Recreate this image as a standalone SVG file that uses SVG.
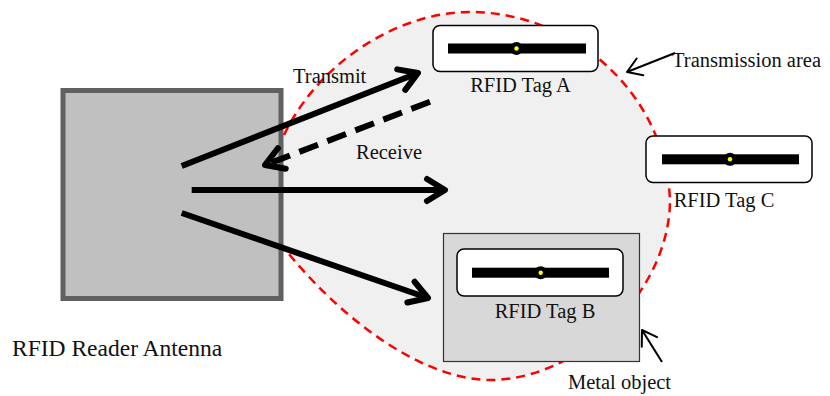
<svg xmlns="http://www.w3.org/2000/svg" width="830" height="396" viewBox="0 0 830 396">
<defs>
<style>
text{font-family:"Liberation Serif","Times New Roman",serif;font-size:20.5px;fill:#111}
.tag{fill:#fff;stroke:#000;stroke-width:1.5}
.bar{fill:#000}
.big{fill:none;stroke:#000;stroke-width:6}
.thin{fill:none;stroke:#000;stroke-width:2}
</style>
<marker id="ah" markerUnits="userSpaceOnUse" markerWidth="50" markerHeight="50" viewBox="-30 -25 50 50" refX="0" refY="0" orient="auto" overflow="visible">
<path d="M-18,-11 L0,0 L-18,11" fill="none" stroke="#000" stroke-width="6" stroke-dasharray="none" stroke-linecap="round" stroke-linejoin="round"/>
</marker>
<marker id="ahs" markerUnits="userSpaceOnUse" markerWidth="40" markerHeight="40" viewBox="-20 -20 40 40" refX="0" refY="0" orient="auto" overflow="visible">
<path d="M-14,-9 L0,0 L-14,9" fill="none" stroke="#000" stroke-width="2" stroke-linecap="round" stroke-linejoin="round"/>
</marker>
</defs>
<rect width="830" height="396" fill="#fff"/>
<g id="area">
<path d="M284,248 L240,190 L284,135 C320,60 400,12 470,12 C570,12 665,90 670,200 C670,290 580,380 490,380 C430,380 350,330 284,248" fill="#f0f0f0" stroke="none"/>
<path d="M284,135 C320,60 400,12 470,12 C570,12 665,90 670,200 C670,290 580,380 490,380 C430,380 350,330 284,248" fill="none" stroke="#f00" stroke-width="2.5" stroke-dasharray="9,6"/>
<text x="672" y="67">Transmission area</text>
</g>
<g id="antenna">
<rect x="63" y="90.5" width="218" height="208" fill="#c0c0c0" stroke="#606060" stroke-width="5"/>
<text x="12" y="356" style="font-size:23.5px">RFID Reader Antenna</text>
</g>
<g id="metal">
<rect x="443.5" y="233.5" width="196" height="128" fill="#d8d8d8" stroke="#333" stroke-width="1.2"/>
<text x="568" y="389">Metal object</text>
</g>
<g id="tagA">
<rect class="tag" x="433" y="25.5" width="165" height="46" rx="7"/>
<rect class="bar" x="448" y="43.5" width="138" height="10"/>
<circle cx="516.5" cy="48.5" r="6.5" fill="#000"/>
<circle cx="516.5" cy="48.5" r="2.2" fill="#ff0"/>
<text x="520.5" y="92" text-anchor="middle">RFID Tag A</text>
</g>
<g id="tagC">
<rect class="tag" x="646" y="136" width="166" height="46.5" rx="7"/>
<rect class="bar" x="662" y="154.3" width="137" height="10"/>
<circle cx="730" cy="159.3" r="6.5" fill="#000"/>
<circle cx="730" cy="159.3" r="2.2" fill="#ff0"/>
<text x="724" y="206.5" text-anchor="middle">RFID Tag C</text>
</g>
<g id="tagB">
<rect class="tag" x="457" y="249" width="166" height="47" rx="7"/>
<rect class="bar" x="472" y="267.7" width="137" height="10"/>
<circle cx="540.7" cy="272.7" r="6.5" fill="#000"/>
<circle cx="540.7" cy="272.7" r="2.2" fill="#ff0"/>
<text x="545" y="318" text-anchor="middle">RFID Tag B</text>
</g>
<g id="connectors">
<line class="big" x1="181.7" y1="166" x2="418" y2="73" marker-end="url(#ah)"/>
<line class="big" x1="430" y1="101.7" x2="265" y2="165" stroke-dasharray="20,10" marker-end="url(#ah)"/>
<line class="big" x1="191.7" y1="190" x2="445" y2="190" marker-end="url(#ah)"/>
<line class="big" x1="181.7" y1="213" x2="428" y2="298" marker-end="url(#ah)"/>
<line class="thin" x1="675" y1="53" x2="627" y2="72" marker-end="url(#ahs)"/>
<line class="thin" x1="662" y1="362" x2="642" y2="330" marker-end="url(#ahs)"/>
<text x="293" y="83">Transmit</text>
<text x="356" y="159">Receive</text>
</g>
</svg>
